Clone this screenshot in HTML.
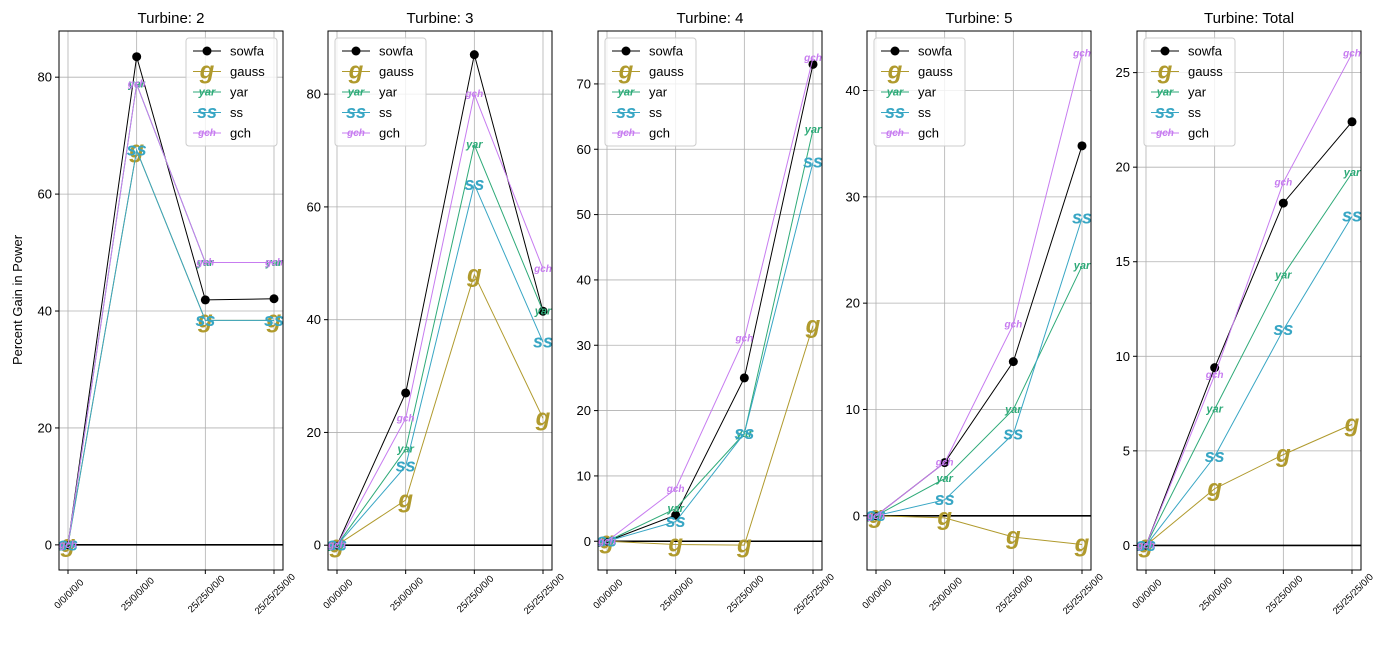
<!DOCTYPE html>
<html><head><meta charset="utf-8"><style>
body{margin:0;background:#fff}
svg text{font-family:"Liberation Sans","DejaVu Sans",sans-serif}
</style></head><body>
<svg id="c" width="1389" height="649" xmlns="http://www.w3.org/2000/svg"></svg>
<script>
const categories = ["0/0/0/0/0","25/0/0/0/0","25/25/0/0/0","25/25/25/0/0"];
const titles = ["Turbine: 2","Turbine: 3","Turbine: 4","Turbine: 5","Turbine: Total"];
const sowfa = [[0,83.5,41.9,42.1],[0,27,87,41.5],[0,4,25,73],[0,5,14.5,34.8],[0,9.4,18.1,22.4]];
const gauss = [[0,67.5,38.4,38.4],[0,8,48,22.5],[0,-0.5,-0.6,33],[0,-0.2,-2,-2.7],[0,3,4.8,6.4]];
const yar = [[0,78.8,48.3,48.3],[0,17,71,41.5],[0,5,16.5,63],[0,3.5,10,23.5],[0,7.2,14.3,19.7]];
const ss = [[0,67.5,38.4,38.4],[0,14,64,36],[0,3,16.5,58],[0,1.5,7.7,28],[0,4.7,11.4,17.4]];
const gch = [[0,78.8,48.3,48.3],[0,22.5,80,49],[0,8,31,74],[0,5,18,43.5],[0,9,19.2,26]];
const yTicks = [[0,20,40,60,80],[0,20,40,60,80],[0,10,20,30,40,50,60,70],[0,10,20,30,40],[0,5,10,15,20,25]];
const yLims = [[-4.3,87.9],[-4.4,91.2],[-4.4,78.1],[-5.1,45.6],[-1.3,27.2]];
const panelX = [59,328,598,867,1137];
const PW=224, TOP=31, BOT=570;
const svg=document.getElementById('c');
const NS="http://www.w3.org/2000/svg";
function mk(t,a,p){const e=document.createElementNS(NS,t);for(const k in a)e.setAttribute(k,a[k]);(p||svg).appendChild(e);return e;}
const series=[
 {name:"sowfa",data:sowfa,color:"#000000",mk:null,size:0},
 {name:"gauss",data:gauss,color:"#b09a2d",mk:"g",size:24},
 {name:"yar",data:yar,color:"#2eaa78",mk:"yar",size:11},
 {name:"ss",data:ss,color:"#38a6c4",mk:"ss",size:18},
 {name:"gch",data:gch,color:"#c77cf0",mk:"gch",size:10}];
for(let p=0;p<5;p++){
  const g=mk('g',{});
  
  
  const x0=panelX[p];
  const [lo,hi]=yLims[p];
  const xs=i=>x0+9+i*(PW-18)/3;
  const ys=v=>BOT-(v-lo)/(hi-lo)*(BOT-TOP);
  categories.forEach((c,i)=>{mk('line',{x1:xs(i),x2:xs(i),y1:TOP,y2:BOT,stroke:"#b0b0b0","stroke-width":0.8},g);});
  yTicks[p].forEach(t=>{
    mk('line',{x1:x0,x2:x0+PW,y1:ys(t),y2:ys(t),stroke:"#b0b0b0","stroke-width":0.8},g);
    mk('line',{x1:x0-4,x2:x0,y1:ys(t),y2:ys(t),stroke:"#000"},g);
    const tl=mk('text',{x:x0-7,y:ys(t)+4.5,"text-anchor":"end","font-size":13},g);tl.textContent=t;
    
    
  });
  categories.forEach((c,i)=>{
    mk('line',{x1:xs(i),x2:xs(i),y1:BOT,y2:BOT+4,stroke:"#000"},g);
    const cx=xs(i)+1, cy=BOT+24;
    const tl=mk('text',{x:cx,y:cy+3,"text-anchor":"middle","font-size":9.5,transform:`rotate(-45 ${cx} ${cy})`},g);tl.textContent=c;
    
    
  });
  mk('line',{x1:x0,x2:x0+PW,y1:ys(0),y2:ys(0),stroke:"#000","stroke-width":1.6},g);
  series.forEach(s=>{
    const d=s.data[p];
    const pl=mk('polyline',{points:d.map((v,i)=>xs(i)+","+ys(v)).join(" "),fill:"none",stroke:s.color,"stroke-width":1},g);
    
    
    d.forEach((v,i)=>{
      let m;
      if(!s.mk){m=mk('circle',{cx:xs(i),cy:ys(v),r:4.5,fill:"#000"},g);}
      else{m=mk('text',{x:xs(i),y:ys(v)+s.size*0.3,"text-anchor":"middle","font-size":s.size,"font-style":"italic","font-weight":"bold",fill:s.color},g);m.textContent=s.mk;}
      
      
    });
  });
  mk('rect',{x:x0,y:TOP,width:PW,height:BOT-TOP,fill:"none",stroke:"#000","stroke-width":1},g);
  const tt=mk('text',{x:x0+PW/2,y:TOP-8,"text-anchor":"middle","font-size":15},g);tt.textContent=titles[p];
  
  
  const lx=p===0?x0+127:x0+7, ly=TOP+7;
  const lg=mk('g',{},g);
  
  
  mk('rect',{x:lx,y:ly,width:91,height:108,rx:3,fill:"#fff","fill-opacity":0.8,stroke:"#ccc"},lg);
  series.forEach((s,k)=>{
    const yy=ly+13+k*20.5;
    mk('line',{x1:lx+7,x2:lx+35,y1:yy,y2:yy,stroke:s.color,"stroke-width":1},lg);
    if(!s.mk)mk('circle',{cx:lx+21,cy:yy,r:4.5,fill:"#000"},lg);
    else{const m=mk('text',{x:lx+21,y:yy+s.size*0.3,"text-anchor":"middle","font-size":s.size,"font-style":"italic","font-weight":"bold",fill:s.color},lg);m.textContent=s.mk;}
    const t=mk('text',{x:lx+44,y:yy+4.5,"font-size":13},lg);t.textContent=s.name;
    
    
  });
}
const yl=mk('text',{x:22,y:300,"text-anchor":"middle","font-size":13,transform:"rotate(-90 22 300)"});
yl.textContent="Percent Gain in Power";


</script>
</body></html>
